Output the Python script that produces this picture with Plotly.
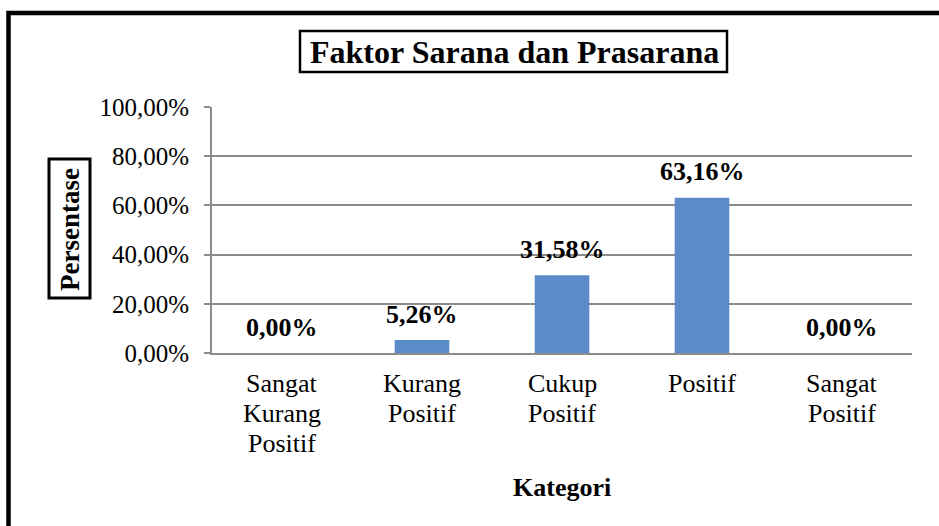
import plotly.graph_objects as go

categories = ["Sangat Kurang Positif", "Kurang Positif", "Cukup Positif", "Positif", "Sangat Positif"]
category_lines = [["Sangat", "Kurang", "Positif"], ["Kurang", "Positif"], ["Cukup", "Positif"], ["Positif"], ["Sangat", "Positif"]]
values = [0.00, 5.26, 31.58, 63.16, 0.00]
y_tick_vals = [0, 20, 40, 60, 80, 100]
y_tick_text = ["0,00%", "20,00%", "40,00%", "60,00%", "80,00%", "100,00%"]
title_text = "Faktor Sarana dan Prasarana"
x_title = "Kategori"
y_title = "Persentase"

W, H = 939, 526
L, R, T, B = 212, 27, 107, 173
PW, PH = W - L - R, H - T - B

def px_x(x):
    return (x - L) / PW

def px_y(y):
    return (H - B - y) / PH

FONT = "'Liberation Serif', 'Times New Roman', Times, serif"
GRID = "#8C8C8C"

fig = go.Figure()
fig.add_trace(go.Bar(
    x=categories, y=values,
    marker=dict(color="#5B8BC9", line=dict(width=0)),
    width=0.39,
    hoverinfo="skip",
))

annotations = []
for c, v in zip(categories, values):
    annotations.append(dict(
        x=c, y=v, xref="x", yref="y", yshift=26,
        text="<b>" + f"{v:.2f}".replace(".", ",") + "%</b>",
        showarrow=False, xanchor="center", yanchor="middle",
        font=dict(family=FONT, size=26, color="black"),
    ))

# category labels (line by line, to match the tighter line spacing)
for c, lines in zip(categories, category_lines):
    for i, line in enumerate(lines):
        annotations.append(dict(
            x=c, y=0, xref="x", yref="y", yshift=-(30 + 30 * i),
            text=line, showarrow=False, xanchor="center", yanchor="middle",
            font=dict(family=FONT, size=26, color="black"),
        ))

annotations.append(dict(
    x=px_x(514), y=px_y(51.5), xref="paper", yref="paper",
    text="<b>" + title_text + "</b>", showarrow=False,
    xanchor="center", yanchor="middle",
    font=dict(family=FONT, size=32, color="black"),
))
annotations.append(dict(
    x=px_x(562), y=px_y(487), xref="paper", yref="paper",
    text="<b>" + x_title + "</b>", showarrow=False,
    xanchor="center", yanchor="middle",
    font=dict(family=FONT, size=26, color="black"),
))
annotations.append(dict(
    x=px_x(70), y=px_y(230), xref="paper", yref="paper",
    text="<b>" + y_title + "</b>", showarrow=False, textangle=-90,
    xanchor="center", yanchor="middle",
    font=dict(family=FONT, size=27, color="black"),
))

shapes = [
    dict(type="rect", xref="paper", yref="paper",
         x0=px_x(8.5), x1=px_x(960), y0=px_y(560), y1=px_y(13),
         line=dict(color="black", width=4.5), fillcolor="rgba(0,0,0,0)", layer="above"),
    dict(type="rect", xref="paper", yref="paper",
         x0=px_x(300), x1=px_x(727), y0=px_y(72), y1=px_y(31),
         line=dict(color="black", width=2.5), fillcolor="rgba(0,0,0,0)"),
    dict(type="rect", xref="paper", yref="paper",
         x0=px_x(49), x1=px_x(90), y0=px_y(298), y1=px_y(159),
         line=dict(color="black", width=3), fillcolor="rgba(0,0,0,0)"),
]

fig.update_layout(
    width=W, height=H,
    margin=dict(l=L, r=R, t=T, b=B, pad=0),
    paper_bgcolor="white", plot_bgcolor="white",
    showlegend=False,
    font=dict(family=FONT, size=25, color="black"),
    annotations=annotations,
    shapes=shapes,
    xaxis=dict(
        showgrid=False, showline=True, linecolor=GRID, linewidth=2,
        ticks="", showticklabels=False, fixedrange=True, zeroline=False,
    ),
    yaxis=dict(
        range=[0, 100], tickvals=y_tick_vals, ticktext=y_tick_text,
        showgrid=True, gridcolor=GRID, gridwidth=2,
        showline=True, linecolor=GRID, linewidth=2,
        ticks="outside", ticklen=6, tickcolor=GRID, tickwidth=2,
        tickfont=dict(family=FONT, size=25, color="black"),
        ticklabelstandoff=10, zeroline=False, fixedrange=True,
    ),
)

fig.write_html("out.html", config={"displayModeBar": False},
               post_script="document.body.style.margin='0';document.body.style.overflow='hidden';")
